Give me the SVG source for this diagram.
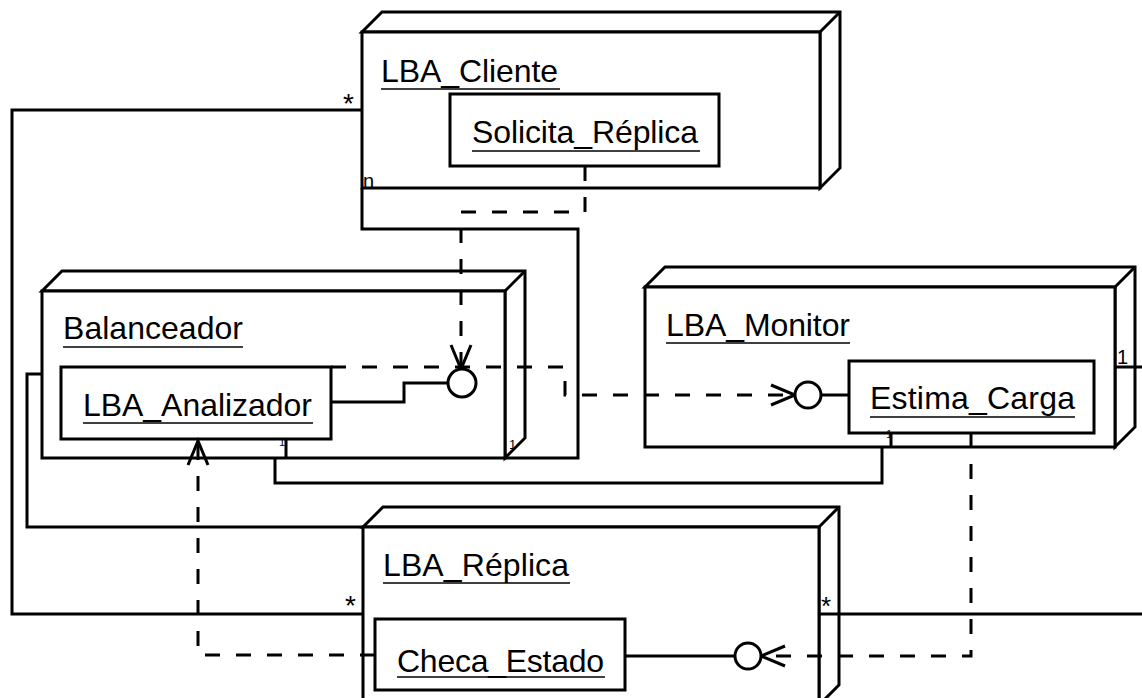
<svg xmlns="http://www.w3.org/2000/svg" width="1142" height="698" viewBox="0 0 1142 698">
<defs>
<style>
.box{fill:#fff;stroke:#000;stroke-width:3;stroke-linejoin:miter}
.part{fill:#fff;stroke:#000;stroke-width:3}
.lbl{font-family:"Liberation Sans",Arial,sans-serif;font-size:32px;fill:#000}
.sm{font-family:"Liberation Sans",Arial,sans-serif;fill:#000}
.ul{stroke:#000;stroke-width:1.5}
.solid{fill:none;stroke:#000;stroke-width:3}
.dash{fill:none;stroke:#000;stroke-width:3;stroke-dasharray:15 16}
.lol{fill:#fff;stroke:#000;stroke-width:3}
</style>
<marker id="open" markerUnits="userSpaceOnUse" markerWidth="40" markerHeight="30" viewBox="-30 -15 40 30" refX="0" refY="0" orient="auto">
<path d="M-24,-10 L0,0 L-24,10" fill="none" stroke="#000" stroke-width="3" stroke-dasharray="none"/>
</marker>
</defs>
<rect width="1142" height="698" fill="#fff"/>

<g id="LBA_Cliente">
<path class="box" d="M362,32 L382,12 L840,12 L840,168 L820,188 L820,32 Z"/>
<path class="box" d="M820,32 L840,12"/>
<rect class="box" x="362" y="32" width="458" height="156"/>
<text class="lbl" x="381" y="82" textLength="177">LBA_Cliente</text>
<line class="ul" x1="381" y1="89" x2="560" y2="89"/>
<g id="Solicita_Replica">
<rect class="part" x="450" y="94" width="269" height="72"/>
<text class="lbl" x="472" y="143" textLength="226">Solicita_Réplica</text>
<line class="ul" x1="472" y1="151" x2="700" y2="151"/>
</g>
</g>

<g id="Balanceador">
<path class="box" d="M42,291 L62,271 L525,271 L525,438 L505,458 L505,291 Z"/>
<path class="box" d="M505,291 L525,271"/>
<rect class="box" x="42" y="291" width="463" height="167"/>
<text class="lbl" x="63" y="339" textLength="180">Balanceador</text>
<line class="ul" x1="63" y1="347" x2="243" y2="347"/>
<g id="LBA_Analizador">
<rect class="part" x="61" y="367" width="270" height="72"/>
<text class="lbl" x="83" y="416" textLength="229" lengthAdjust="spacingAndGlyphs">LBA_Analizador</text>
<line class="ul" x1="83" y1="423" x2="313" y2="423"/>
</g>
</g>

<g id="LBA_Monitor">
<path class="box" d="M645,287 L665,267 L1135,267 L1135,427 L1115,447 L1115,287 Z"/>
<path class="box" d="M1115,287 L1135,267"/>
<rect class="box" x="645" y="287" width="470" height="160"/>
<text class="lbl" x="666" y="336" textLength="184">LBA_Monitor</text>
<line class="ul" x1="666" y1="343" x2="850" y2="343"/>
<g id="Estima_Carga">
<rect class="part" x="849" y="361" width="245" height="72"/>
<text class="lbl" x="870" y="409" textLength="205">Estima_Carga</text>
<line class="ul" x1="870" y1="417" x2="1075" y2="417"/>
</g>
</g>

<g id="LBA_Replica">
<path class="box" d="M363,527 L383,507 L839,507 L839,685 L819,705 L819,527 Z"/>
<path class="box" d="M819,527 L839,507"/>
<rect class="box" x="363" y="527" width="456" height="178"/>
<text class="lbl" x="383" y="576" textLength="186">LBA_Réplica</text>
<line class="ul" x1="383" y1="583" x2="570" y2="583"/>
<g id="Checa_Estado">
<rect class="part" x="375" y="619" width="250" height="71"/>
<text class="lbl" x="397" y="672" textLength="207">Checa_Estado</text>
<line class="ul" x1="397" y1="677" x2="605" y2="677"/>
</g>
</g>

<g id="connectors">
<path class="solid" d="M362,110 L12,110 L12,614 L363,614"/>
<path class="solid" d="M362,188 L362,229 L578,229 L578,458 L505,458"/>
<path class="solid" d="M42,374 L27,374 L27,527 L363,527"/>
<path class="solid" d="M286,439 L286,458 M275,458 L275,483 L882,483 L882,447 M891,433 L891,447"/>
<path class="solid" d="M1115,367 L1142,367"/>
<path class="solid" d="M819,614 L1142,614"/>
<path class="solid" d="M331,402 L404,402 L404,383 L448,383"/>
<path class="solid" d="M849,395 L821,395"/>
<path class="solid" d="M625,656 L735,656"/>
<path class="dash" d="M585,166 L585,212 L461,212 L461,369" marker-end="url(#open)"/>
<path class="dash" d="M331,367 L565,367 L565,395 L795,395" marker-end="url(#open)"/>
<path class="dash" d="M971,433 L971,656 L761,656" marker-end="url(#open)"/>
<path class="dash" d="M375,655 L198,655 L198,441" marker-end="url(#open)"/>
<circle class="lol" cx="462" cy="383" r="14"/>
<circle class="lol" cx="808" cy="395" r="13"/>
<circle class="lol" cx="748" cy="656" r="13"/>
<text class="sm" x="343" y="113" font-size="28">*</text>
<text class="sm" x="363" y="188" font-size="20">n</text>
<text class="sm" x="279" y="446" font-size="11">1</text>
<text class="sm" x="509" y="449" font-size="13">1</text>
<text class="sm" x="886" y="438" font-size="11">1</text>
<text class="sm" x="1117" y="364" font-size="20">1</text>
<text class="sm" x="345" y="615" font-size="28">*</text>
<text class="sm" x="821" y="615" font-size="26">*</text>
</g>
</svg>
